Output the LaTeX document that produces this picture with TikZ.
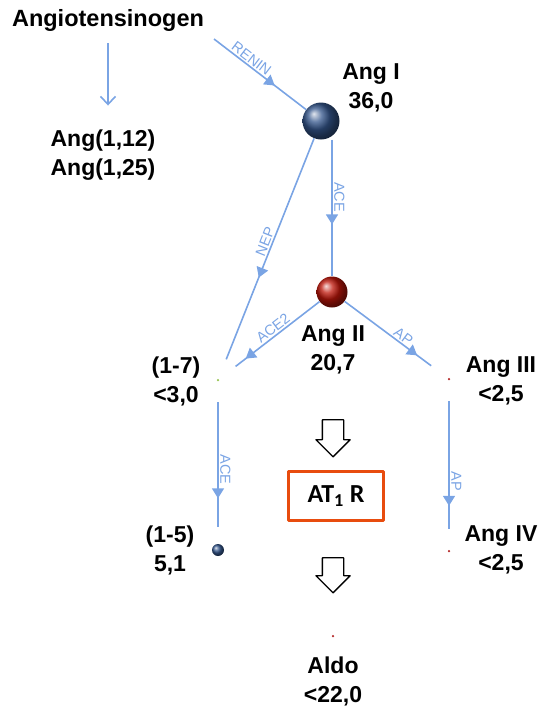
\documentclass[tikz,border=0pt]{standalone}
\usepackage{fontspec}
\setmainfont{Liberation Sans}
\newfontfamily\carlito{Carlito}
\usetikzlibrary{positioning,arrows.meta,decorations.markings,shapes.arrows}
\definecolor{flowblue}{RGB}{122,164,228}
\definecolor{boxorange}{RGB}{232,76,14}
\definecolor{angIblue}{RGB}{52,86,140}
\definecolor{angIIred}{RGB}{190,22,10}
\definecolor{dotgreen}{RGB}{150,195,80}
\definecolor{dotred}{RGB}{180,40,40}
\tikzset{
  lbl/.style={font=\bfseries\fontsize{23}{29}\selectfont, align=center, inner sep=0pt},
  enz/.style={font=\fontsize{14.5}{15}\selectfont, text=flowblue, inner sep=1.5pt},
  flow/.style={draw=flowblue, line width=1.6pt},
  midarrow/.style={postaction={decorate}, decoration={markings,
      mark=at position #1 with {\arrow[flowblue]{Triangle[length=10pt,width=12pt]}}}},
  ball/.style={circle, inner sep=0pt, minimum size=#1},
  tinydot/.style={circle, inner sep=0pt, minimum size=2.5pt, fill=#1, outer sep=21pt},
  hollow/.style={single arrow, draw=black, line width=1.3pt, fill=white, rotate=-90,
      inner sep=0pt, inner ysep=10pt, minimum width=33pt, single arrow head extend=6.5pt, minimum height=#1}
}
\begin{document}
\begin{tikzpicture}[x=1pt, y=1pt, line join=round]
  \useasboundingbox (0,0) rectangle (542,-707);
  % molecules
  \node[lbl, font=\bfseries\fontsize{23.5}{28}\selectfont] (Agt) at (108,-20) {Angiotensinogen};
  \node[lbl] (Ang112) at (103,-155) {Ang(1,12)\\Ang(1,25)};
  \node[ball=37pt, ball color=angIblue] (AngI) at (321,-121) {};
  \node[lbl] (AngIlbl) at (371,-88) {Ang I\\36,0};
  \node[ball=31pt, ball color=angIIred] (AngII) at (332,-292) {};
  \node[lbl] (AngIIlbl) at (333,-350) {Ang II\\20,7};
  \node[tinydot=dotgreen] (A17) at (218,-380) {};
  \node[lbl] (A17lbl) at (176,-381) {(1-7)\\<3,0};
  \node[tinydot=dotred] (AngIII) at (449,-379) {};
  \node[lbl] (AngIIIlbl) at (501,-381) {Ang III\\<2,5};
  \node[ball=12pt, ball color=angIblue, outer sep=17pt] (A15) at (218,-550) {};
  \node[lbl] (A15lbl) at (170,-550) {(1-5)\\5,1};
  \node[tinydot=dotred] (AngIV) at (449,-551) {};
  \node[lbl] (AngIVlbl) at (501,-550) {Ang IV\\<2,5};
  \node[tinydot=dotred] (Aldo) at (333,-636) {};
  \node[lbl] (Aldolbl) at (333,-681) {Aldo\\<22,0};
  % receptor
  \node[hollow=37pt] (H1) at (333,-433) {};
  \node[draw=boxorange, line width=2.5pt, minimum width=95pt, minimum height=49pt,
    font=\carlito\bfseries\fontsize{26}{30}\selectfont] (AT1R) at (336,-496) {AT\textsubscript{1} R};
  \node[hollow=35pt] (H2) at (333,-570) {};
  % enzymes
  \coordinate (ReninStart) at (214,-39);
  \draw[flow, -{Straight Barb[length=8pt,width=15pt]}, shorten <=12pt, shorten >=24pt]
    (Agt.south) -- (Agt.south |- Ang112.north);
  \draw[flow, midarrow=0.66] (ReninStart) -- (AngI)
    node[enz, pos=0.36, above, sloped] {RENIN};
  \draw[flow, midarrow=0.62] (AngI.south -| AngII) -- (AngII)
    node[enz, pos=0.42, rotate=-90, anchor=south] {ACE};
  \draw[flow, midarrow=0.63] (AngI) -- (A17)
    node[enz, pos=0.48, above, sloped] {NEP};
  \draw[flow, midarrow=0.88] (AngII) -- (A17)
    node[enz, pos=0.5, above, sloped] {ACE2};
  \draw[flow, midarrow=0.84] (AngII) -- (AngIII)
    node[enz, pos=0.63, above, sloped] {AP};
  \draw[flow, midarrow=0.77] (A17) -- (A15)
    node[enz, pos=0.54, rotate=-90, anchor=south] {ACE};
  \draw[flow, midarrow=0.82] (AngIII) -- (AngIV)
    node[enz, pos=0.63, rotate=-90, anchor=south] {AP};
\end{tikzpicture}
\end{document}
